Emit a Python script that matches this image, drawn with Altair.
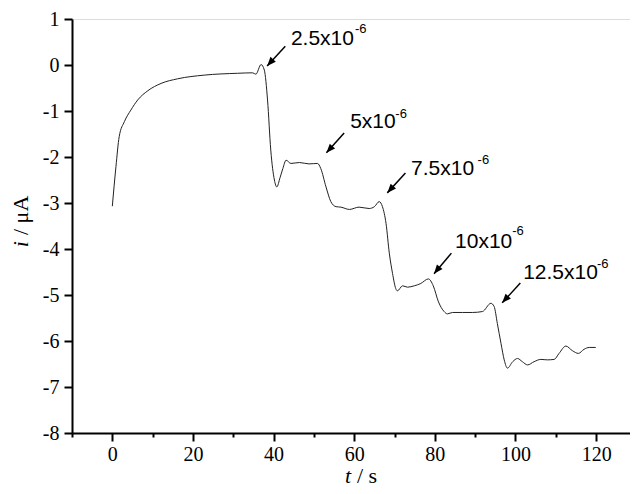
import altair as alt
import pandas as pd

# ---- curve data (t in s, i in µA) ----
t_vals = [0, 0.9, 1.7, 3.0, 4.6, 6.3, 8.8, 12.1, 16.2, 22.8, 31.1, 34.8, 35.6, 36.9, 37.7,
          38.5, 39.3, 40.2, 40.8, 41.6, 42.3, 43.1, 44.3, 46.4, 48.8, 50.9, 51.7, 53.0, 54.2,
          55.5, 56.7, 58.8, 61.2, 63.7, 65.0, 66.2, 67.0, 67.9, 68.7, 69.5, 70.3, 70.7, 72.0,
          73.2, 74.9, 76.5, 78.4, 79.6, 80.9, 82.3, 83.1, 84.4, 86.9, 89.3, 91.8, 93.9, 94.7,
          95.5, 96.4, 97.2, 98.0, 99.3, 100.5, 101.7, 103.0, 104.6, 106.3, 107.9, 109.6, 110.8,
          112.5, 114.1, 115.6, 117.0, 118.3, 119.9]
i_vals = [-3.07, -2.21, -1.56, -1.23, -0.98, -0.76, -0.56, -0.40, -0.30, -0.22, -0.18, -0.17,
          -0.20, 0.01, -0.11, -0.76, -1.85, -2.50, -2.65, -2.45, -2.25, -2.07, -2.14, -2.12,
          -2.15, -2.14, -2.25, -2.65, -2.97, -3.08, -3.09, -3.14, -3.09, -3.12, -3.08, -2.97,
          -3.08, -3.45, -4.09, -4.53, -4.86, -4.91, -4.80, -4.83, -4.80, -4.75, -4.65, -4.80,
          -5.15, -5.36, -5.41, -5.38, -5.38, -5.38, -5.36, -5.18, -5.25, -5.62, -6.05, -6.41,
          -6.59, -6.45, -6.38, -6.45, -6.52, -6.45, -6.40, -6.41, -6.40, -6.27, -6.11, -6.21,
          -6.27, -6.18, -6.14, -6.14]

# ---- annotations ----
ann_text = ["2.5x10", "5x10", "7.5x10", "10x10", "12.5x10"]
ann_t = [44.3, 59.0, 74.1, 85.0, 101.9]
ann_i = [0.435, -1.376, -2.39, -3.97, -4.65]
sup_text = ["-6", "-6", "-6", "-6", "-6"]
sup_t = [60.2, 70.2, 90.6, 99.2, 120.2]
sup_i = [0.685, -1.152, -2.15, -3.70, -4.41]
arr_t0 = [42.9, 57.5, 72.7, 84.1, 101.2]
arr_i0 = [0.41, -1.48, -2.35, -4.09, -4.74]
arr_t1 = [38.4, 53.1, 68.2, 79.8, 96.7]
arr_i1 = [-0.02, -1.91, -2.78, -4.54, -5.17]
arr_angle = [222, 222, 222, 219, 222]

x_ticks = list(range(-10, 121, 10))
y_ticks = [v / 2 for v in range(-16, 3)]

curve = pd.DataFrame({"t": t_vals, "i": i_vals})
ann = pd.DataFrame({"text": ann_text, "t": ann_t, "i": ann_i})
sup = pd.DataFrame({"text": sup_text, "t": sup_t, "i": sup_i})
arr = pd.DataFrame({"t0": arr_t0, "i0": arr_i0, "t1": arr_t1, "i1": arr_i1, "angle": arr_angle})

serif = "Liberation Serif"
sans = "Liberation Sans"

xscale = alt.Scale(domain=[-10, 128.4], nice=False, zero=False)
yscale = alt.Scale(domain=[-8, 1], nice=False, zero=False)

xaxis = alt.Axis(
    values=x_ticks, title=None, grid=False,
    labelExpr="datum.value % 20 === 0 ? '' + datum.value : ''",
    tickSize={"condition": {"test": "datum.value % 20 === 0", "value": 8}, "value": 4},
    labelFont=serif, labelFontSize=20, labelColor="black", labelPadding=3,
    domainColor="black", domainWidth=2, tickColor="black", tickWidth=2,
    labelFlush=False, labelOverlap=False,
)
yaxis = alt.Axis(
    values=y_ticks, title=None, grid=False,
    labelExpr="datum.value % 1 === 0 ? '' + datum.value : ''",
    tickSize={"condition": {"test": "datum.value % 1 === 0", "value": 8}, "value": 4},
    labelFont=serif, labelFontSize=20, labelColor="black", labelPadding=5,
    domainColor="black", domainWidth=2, tickColor="black", tickWidth=2,
    labelFlush=False, labelOverlap=False,
)

line = alt.Chart(curve).mark_line(color="#222222", strokeWidth=1, interpolate="monotone").encode(
    x=alt.X("t:Q", scale=xscale, axis=xaxis),
    y=alt.Y("i:Q", scale=yscale, axis=yaxis),
)

labels = alt.Chart(ann).mark_text(
    font=sans, fontSize=21, align="left", baseline="alphabetic", color="black"
).encode(x="t:Q", y="i:Q", text="text:N")

sups = alt.Chart(sup).mark_text(
    font=sans, fontSize=13, align="left", baseline="alphabetic", color="black"
).encode(x="t:Q", y="i:Q", text="text:N")

shafts = alt.Chart(arr).mark_rule(color="black", strokeWidth=1.5).encode(
    x="t0:Q", y="i0:Q", x2="t1:Q", y2="i1:Q"
)

heads = alt.Chart(arr).mark_point(
    shape="M0,0L-0.4,1L0.4,1Z", filled=True, color="black", size=324, opacity=1
).encode(x="t1:Q", y="i1:Q", angle=alt.Angle("angle:Q", scale=None))

ytitle_i = alt.Chart(pd.DataFrame({"s": ["i"]})).mark_text(
    font=serif, fontSize=22, fontStyle="italic", angle=270, align="right",
    baseline="alphabetic", color="black"
).encode(x=alt.value(-44), y=alt.value(222), text="s:N")
ytitle_rest = alt.Chart(pd.DataFrame({"s": ["/ \u03bcA"]})).mark_text(
    font=serif, fontSize=22, angle=270, align="left", dx=6,
    baseline="alphabetic", color="black"
).encode(x=alt.value(-44), y=alt.value(222), text="s:N")

xtitle_t = alt.Chart(pd.DataFrame({"s": ["t"]})).mark_text(
    font=serif, fontSize=22, fontStyle="italic", align="right",
    baseline="alphabetic", color="black"
).encode(x=alt.value(279), y=alt.value(464), text="s:N")
xtitle_rest = alt.Chart(pd.DataFrame({"s": ["/ s"]})).mark_text(
    font=serif, fontSize=22, align="left", dx=6,
    baseline="alphabetic", color="black"
).encode(x=alt.value(279), y=alt.value(464), text="s:N")

chart = alt.layer(
    line, shafts, heads, labels, sups, ytitle_i, ytitle_rest, xtitle_t, xtitle_rest
).properties(
    width=558, height=414,
    autosize=alt.AutoSizeParams(type="none"),
    padding={"left": 64, "top": 11, "right": 0, "bottom": 54},
).configure_view(stroke=None).configure(background="white")

chart.save("out.html", embed_options={"renderer": "svg", "actions": False})
